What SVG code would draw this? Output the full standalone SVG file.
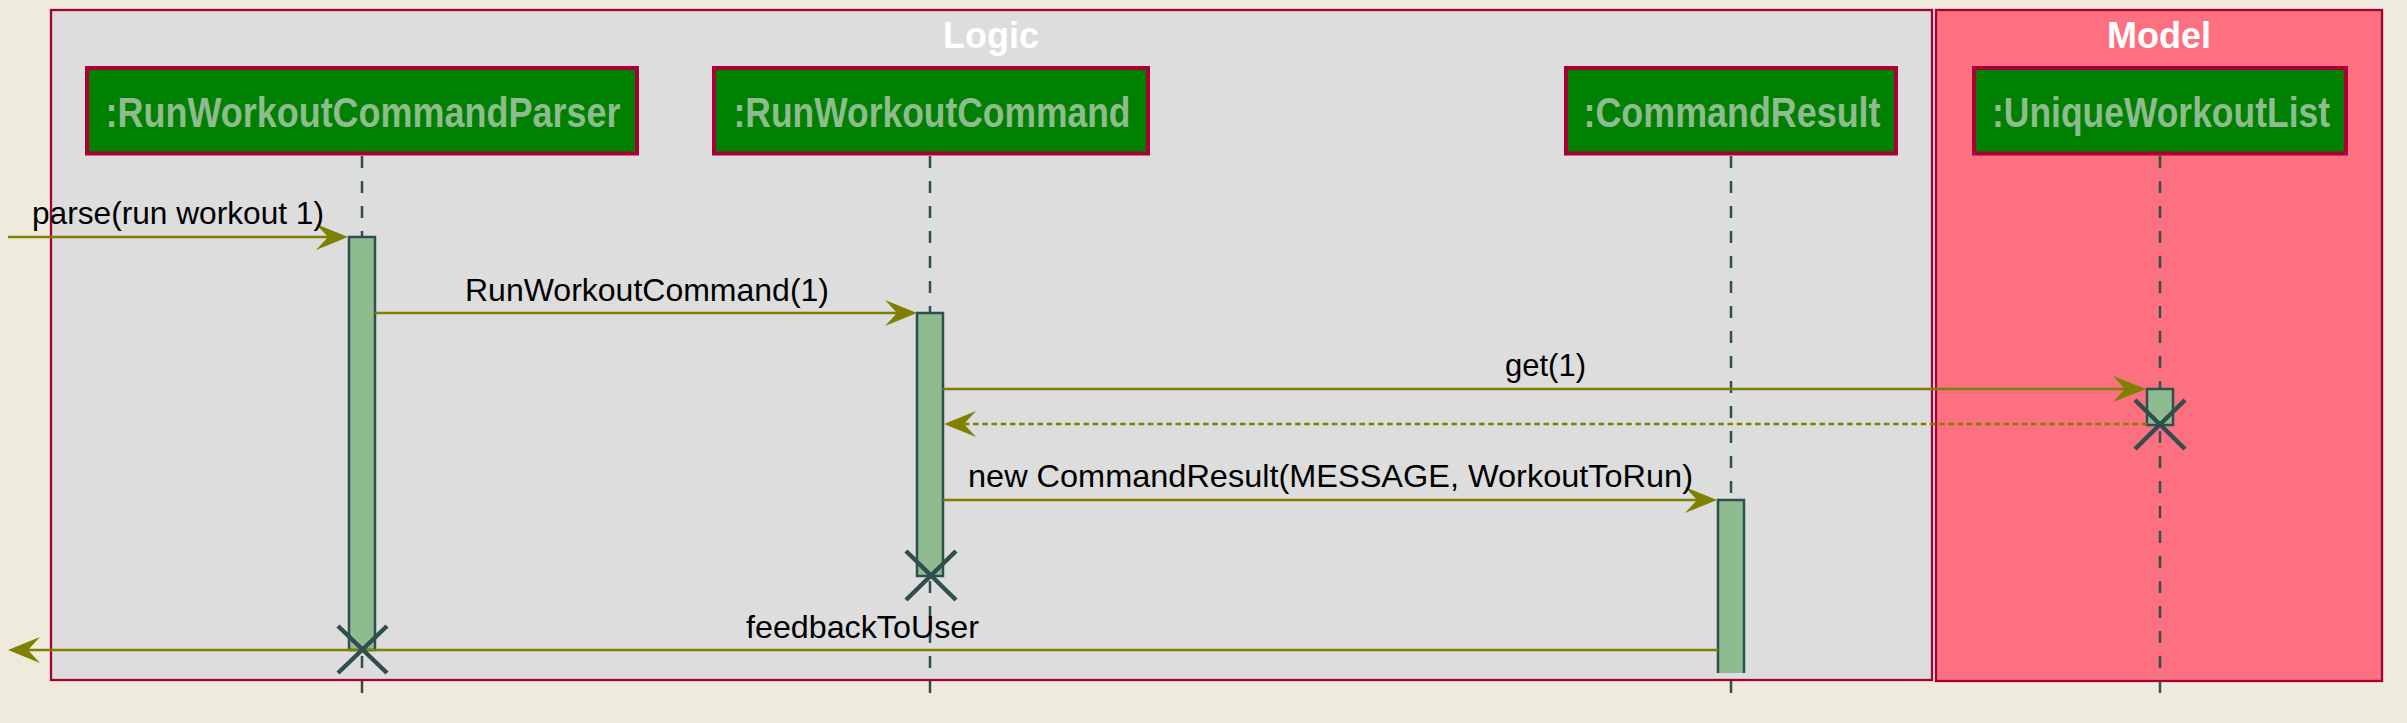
<svg xmlns="http://www.w3.org/2000/svg" width="2407" height="723" viewBox="0 0 2407 723">
<style>
.frame{stroke:#A80036;stroke-width:2.3}
.ftitle{font-family:"Liberation Sans",Arial,sans-serif;font-weight:bold;font-size:36px;fill:#FFFFFF;text-anchor:middle}
.pbox{fill:#008000;stroke:#A80036;stroke-width:4}
.plabel{font-family:"Liberation Sans",Arial,sans-serif;font-weight:bold;font-size:42px;fill:#8FBC8F;text-anchor:middle}
.life{stroke:#2F4F4F;stroke-width:2.5;stroke-dasharray:12,13;fill:none}
.bar{fill:#8FBC8F;stroke:#2F4F4F;stroke-width:2.5}
.msg{stroke:#808000;stroke-width:2.6;fill:none}
.ret{stroke:#808000;stroke-width:2.6;fill:none;stroke-dasharray:5.5,3.7}
.head{fill:#808000}
.mtext{font-family:"Liberation Sans",Arial,sans-serif;font-size:32px;fill:#000000}
.xm{stroke:#2F4F4F;stroke-width:4.5;fill:none}
</style>
<rect x="0" y="0" width="2407" height="723" fill="#EFEBDC"/>
<g id="box-logic">
<rect class="frame" x="51" y="10" width="1881" height="670" fill="#DDDDDD"/>
<text class="ftitle" x="991" y="48">Logic</text>
</g>
<g id="box-model">
<rect class="frame" x="1936" y="10" width="446" height="671" fill="#FC7080"/>
<text class="ftitle" x="2159" y="48">Model</text>
</g>
<g id="lifelines">
<line class="life" x1="362" y1="156" x2="362" y2="694"/>
<line class="life" x1="930" y1="156" x2="930" y2="694"/>
<line class="life" x1="1731" y1="156" x2="1731" y2="694"/>
<line class="life" x1="2160" y1="156" x2="2160" y2="694"/>
</g>
<g id="p-parser">
<rect class="pbox" x="87" y="68" width="550" height="85.5"/>
<text class="plabel" x="363" y="127" textLength="515" lengthAdjust="spacingAndGlyphs">:RunWorkoutCommandParser</text>
<rect class="bar" x="349" y="237" width="26" height="413"/>
</g>
<g id="p-command">
<rect class="pbox" x="714" y="68" width="434" height="85.5"/>
<text class="plabel" x="932" y="127" textLength="397" lengthAdjust="spacingAndGlyphs">:RunWorkoutCommand</text>
<rect class="bar" x="917" y="313" width="26" height="263"/>
</g>
<g id="p-result">
<rect class="pbox" x="1566" y="68" width="330" height="85.5"/>
<text class="plabel" x="1732" y="127" textLength="297" lengthAdjust="spacingAndGlyphs">:CommandResult</text>
<rect x="1718" y="500" width="26" height="173" fill="#8FBC8F"/>
<path d="M1718,673 V500 H1744 V673" fill="none" stroke="#2F4F4F" stroke-width="2.5"/>
</g>
<g id="p-list">
<rect class="pbox" x="1974" y="68" width="372" height="85.5"/>
<text class="plabel" x="2161" y="127" textLength="338" lengthAdjust="spacingAndGlyphs">:UniqueWorkoutList</text>
<rect class="bar" x="2147" y="389" width="26" height="36"/>
</g>
<g id="connectors">
<line class="msg" x1="8" y1="237" x2="340" y2="237"/>
<polygon class="head" points="348,237 316,224 328,237 316,250"/>
<line class="msg" x1="375" y1="313" x2="908" y2="313"/>
<polygon class="head" points="917,313 885,300 897,313 885,326"/>
<line class="msg" x1="943" y1="389" x2="2137" y2="389"/>
<polygon class="head" points="2146,389 2113,376 2125,389 2113,402"/>
<line class="ret" x1="2147" y1="424" x2="954" y2="424"/>
<polygon class="head" points="944,424 976,411 964,424 976,437"/>
<line class="msg" x1="943" y1="500" x2="1708" y2="500"/>
<polygon class="head" points="1717,500 1685,487 1697,500 1685,513"/>
<line class="msg" x1="1718" y1="650" x2="18" y2="650"/>
<polygon class="head" points="8,650 40,637 28,650 40,663"/>
</g>
<g id="destroy-marks">
<path class="xm" d="M338,626 L387,673 M387,626 L338,673"/>
<path class="xm" d="M906,551 L956,600 M956,551 L906,600"/>
<path class="xm" d="M2135,400 L2185,449 M2185,400 L2135,449"/>
</g>
<g id="labels">
<text class="mtext" x="32" y="224" textLength="292" lengthAdjust="spacingAndGlyphs">parse(run workout 1)</text>
<text class="mtext" x="465" y="301" textLength="364" lengthAdjust="spacingAndGlyphs">RunWorkoutCommand(1)</text>
<text class="mtext" x="1505" y="376" textLength="81" lengthAdjust="spacingAndGlyphs">get(1)</text>
<text class="mtext" x="968" y="487" textLength="725" lengthAdjust="spacingAndGlyphs">new CommandResult(MESSAGE, WorkoutToRun)</text>
<text class="mtext" x="746" y="638" textLength="233" lengthAdjust="spacingAndGlyphs">feedbackToUser</text>
</g>
</svg>
